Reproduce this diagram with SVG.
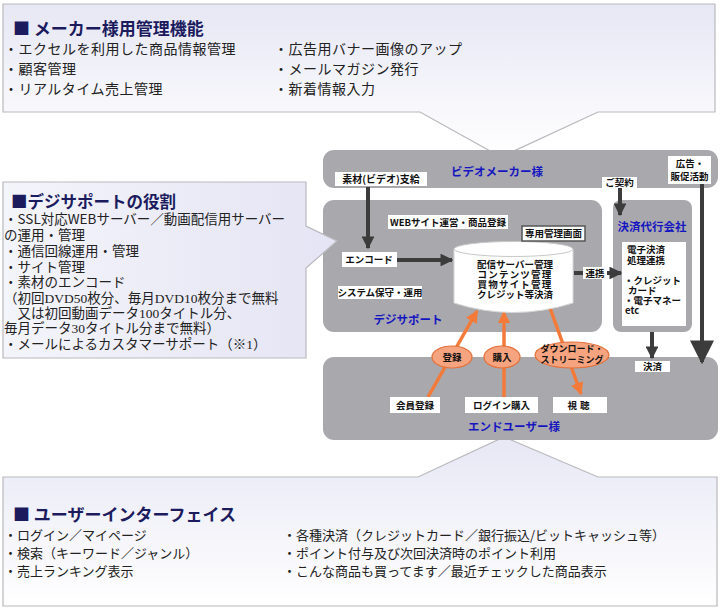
<svg xmlns="http://www.w3.org/2000/svg" width="720" height="609" viewBox="0 0 720 609">
<defs>
<linearGradient id="cg" x1="0" y1="0" x2="0" y2="1">
<stop offset="0" stop-color="#e7e7f5"/>
<stop offset="1" stop-color="#ffffff"/>
</linearGradient>
<linearGradient id="cgl" x1="0" y1="0" x2="1" y2="0">
<stop offset="0" stop-color="#f4f4fb"/>
<stop offset="1" stop-color="#e4e4f4"/>
</linearGradient>
<marker id="ad" viewBox="0 0 10 10" refX="9" refY="5" markerWidth="3.2" markerHeight="3.2" orient="auto" markerUnits="strokeWidth">
<path d="M0,0 L10,5 L0,10 Z" fill="#3c3c3c"/>
</marker>
<marker id="adl" viewBox="0 0 10 10" refX="9" refY="5" markerWidth="6" markerHeight="6" orient="auto" markerUnits="strokeWidth">
<path d="M0,0 L10,5 L0,10 Z" fill="#3c3c3c"/>
</marker>
<marker id="ao" viewBox="0 0 10 10" refX="9" refY="5" markerWidth="3.6" markerHeight="3.6" orient="auto" markerUnits="strokeWidth">
<path d="M0,0 L10,5 L0,10 Z" fill="#f47a3a"/>
</marker>
<style>
.co{stroke:#b9b9bd;stroke-width:1.2}
.ct{font-family:"Noto Sans CJK JP","Noto Sans",sans-serif;font-weight:bold;font-size:17px;fill:#1b1b5e}
.ci{font-family:"Noto Sans CJK JP","Noto Sans",sans-serif;font-size:13px;fill:#222}
.panel{fill:#a9a9ad}
.wb{fill:#ffffff}
.lb{font-family:"Noto Sans CJK JP","Noto Sans",sans-serif;font-weight:bold;font-size:9.5px;fill:#111;text-anchor:middle}
.bt{font-family:"Noto Sans CJK JP","Noto Sans",sans-serif;font-weight:bold;font-size:11.5px;fill:#1616c0;text-anchor:middle}
.da{stroke:#3c3c3c;stroke-width:4;fill:none}
.oa{stroke:#f47a3a;stroke-width:3.5;fill:none}
.ov{fill:#f6a47f;stroke:#e2703a;stroke-width:1.2}
.sf{font-family:"Liberation Serif",serif}
</style>
</defs>

<g id="callout-maker">
<path class="co" fill="url(#cg)" d="M3,4 H715 V112 H598 L501,157 L420,112 H3 Z"/>
<text class="ct" x="13" y="35">■ メーカー様用管理機能</text>
<g class="ci" style="font-size:14px;letter-spacing:0.5px">
<text x="4" y="54">・エクセルを利用した商品情報管理</text>
<text x="4" y="74">・顧客管理</text>
<text x="4" y="94">・リアルタイム売上管理</text>
<text x="274" y="54">・広告用バナー画像のアップ</text>
<text x="274" y="74">・メールマガジン発行</text>
<text x="274" y="94">・新着情報入力</text>
</g>
</g>

<g id="callout-ui">
<path class="co" fill="url(#cg)" d="M3,477 H418 L504,437 L598,477 H717 V606 H3 Z"/>
<text class="ct" x="13" y="521">■ ユーザーインターフェイス</text>
<g class="ci">
<text x="4" y="540">・ログイン／マイページ</text>
<text x="4" y="558">・検索（キーワード／ジャンル）</text>
<text x="4" y="576">・売上ランキング表示</text>
<text x="283" y="540">・各種決済（クレジットカード／銀行振込/ビットキャッシュ等）</text>
<text x="283" y="558">・ポイント付与及び次回決済時のポイント利用</text>
<text x="283" y="576">・こんな商品も買ってます／最近チェックした商品表示</text>
</g>
</g>

<g id="video-maker">
<rect class="panel" x="323" y="150" width="395" height="38" rx="11"/>
<text class="bt" x="497" y="176">ビデオメーカー様</text>
</g>

<g id="digisupport">
<rect class="panel" x="323" y="200" width="279" height="132" rx="11"/>
<text class="bt" x="408" y="324">デジサポート</text>
</g>

<g id="settlement-agent">
<rect class="panel" x="613" y="200" width="79" height="132" rx="8"/>
<text class="bt" x="652" y="231">決済代行会社</text>
<rect class="wb" x="622" y="242" width="64" height="84"/>
<g class="lb" style="text-anchor:start">
<text x="627" y="253">電子決済</text>
<text x="627" y="264">処理連携</text>
<text x="624" y="284">・クレジット</text>
<text x="628" y="294">カード</text>
<text x="624" y="304">・電子マネー</text>
<text x="625" y="314">etc</text>
</g>
</g>

<g id="end-user">
<rect class="panel" x="323" y="357" width="395" height="83" rx="11"/>
<text class="bt" x="514" y="431">エンドユーザー様</text>
</g>

<g id="callout-digisupport">
<path class="co" fill="url(#cgl)" d="M3,182 H306 V226 L337,241 L306,268 V358 H3 Z"/>
<text class="ct" x="11" y="208" style="font-size:16.5px">■デジサポートの役割</text>
<g class="ci" style="font-size:13.5px">
<text x="4" y="224">・SSL対応WEBサーバー／動画配信用サーバー</text>
<text x="4" y="240">の運用・管理</text>
<text x="4" y="256">・通信回線運用・管理</text>
<text x="4" y="272">・サイト管理</text>
<text x="4" y="287">・素材のエンコード</text>
<text x="4" y="303">（初回<tspan class="sf">DVD50</tspan>枚分、毎月<tspan class="sf">DVD10</tspan>枚分まで無料</text>
<text x="4" y="318">　又は初回動画データ<tspan class="sf">100</tspan>タイトル分、</text>
<text x="4" y="333">毎月データ<tspan class="sf">30</tspan>タイトル分まで無料）</text>
<text x="4" y="349">・メールによるカスタマーサポート（※<tspan class="sf">1</tspan>）</text>
</g>
</g>

<g id="connectors">
<line class="da" x1="368" y1="187" x2="368" y2="248" marker-end="url(#ad)"/>
<line class="da" x1="397" y1="260" x2="452" y2="260" marker-end="url(#ad)"/>
<line class="da" x1="574" y1="273" x2="583" y2="273"/>
<line class="da" x1="607" y1="273" x2="621" y2="273" marker-end="url(#ad)"/>
<line class="da" x1="620" y1="187" x2="620" y2="215" marker-end="url(#ad)"/>
<line class="da" x1="652" y1="332" x2="652" y2="358" marker-end="url(#ad)"/>
<line class="da" x1="702" y1="184" x2="702" y2="362" stroke-width="2.6" marker-end="url(#adl)"/>
<line class="oa" x1="428" y1="397" x2="477" y2="311" marker-end="url(#ao)"/>
<line class="oa" x1="504" y1="397" x2="504" y2="312" marker-end="url(#ao)"/>
<line class="oa" x1="550" y1="308" x2="581" y2="394" marker-end="url(#ao)"/>
</g>

<g id="db">
<path d="M454,249 V303 Q513,322 573,303 V249 Z" fill="#ffffff" stroke="#d6d6d6" stroke-width="1"/>
<ellipse cx="513.5" cy="249" rx="59.5" ry="7.5" fill="#ffffff" stroke="#c8c8c8" stroke-width="1"/>
<text class="lb" x="515" y="268">配信サーバー管理</text>
<text class="lb" x="515" y="278" style="letter-spacing:1.2px">コンテンツ管理</text>
<text class="lb" x="515" y="288" style="letter-spacing:1.2px">買物サイト管理</text>
<text class="lb" x="515" y="298">クレジット等決済</text>
</g>

<g id="n-source">
<rect class="wb" x="335" y="172" width="92" height="14"/>
<text class="lb" x="381" y="183" style="font-size:10px">素材(ビデオ)支給</text>
</g>
<g id="n-ad">
<rect class="wb" x="668" y="156" width="43" height="28"/>
<text class="lb" x="690" y="167">広告・</text>
<text class="lb" x="689.5" y="180">販促活動</text>
</g>
<g id="n-contract">
<rect class="wb" x="602" y="177" width="35" height="11"/>
<text class="lb" x="619.5" y="186">ご契約</text>
</g>
<g id="n-web">
<rect class="wb" x="388" y="215" width="120" height="14"/>
<text class="lb" x="448" y="226">WEBサイト運営・商品登録</text>
</g>
<g id="n-admin">
<rect x="522" y="226" width="63" height="15" fill="#ffffff" stroke="#555" stroke-width="1.5"/>
<text class="lb" x="553.5" y="237">専用管理画面</text>
</g>
<g id="n-encode">
<rect class="wb" x="342" y="252" width="55" height="15"/>
<text class="lb" x="369" y="263">エンコード</text>
</g>
<g id="n-system">
<rect class="wb" x="338" y="286" width="84" height="13"/>
<text class="lb" x="380" y="296">システム保守・運用</text>
</g>
<g id="n-link">
<rect class="wb" x="583" y="267" width="24" height="12"/>
<text class="lb" x="595" y="277">連携</text>
</g>
<g id="n-settle">
<rect class="wb" x="635" y="361" width="35" height="11"/>
<text class="lb" x="652.5" y="370">決済</text>
</g>
<g id="n-member">
<rect class="wb" x="390" y="397" width="50" height="16"/>
<text class="lb" x="415" y="409">会員登録</text>
</g>
<g id="n-login">
<rect class="wb" x="465" y="397" width="73" height="16"/>
<text class="lb" x="501.5" y="409">ログイン購入</text>
</g>
<g id="n-view">
<rect class="wb" x="553" y="397" width="54" height="16"/>
<text class="lb" x="580" y="409" style="letter-spacing:3px">視聴</text>
</g>
<g id="o-register">
<ellipse class="ov" cx="452" cy="357" rx="20" ry="11"/>
<text class="lb" x="452" y="361">登録</text>
</g>
<g id="o-purchase">
<ellipse class="ov" cx="502" cy="357" rx="18" ry="11"/>
<text class="lb" x="502" y="361">購入</text>
</g>
<g id="o-download">
<ellipse class="ov" cx="572" cy="355" rx="37" ry="13"/>
<text class="lb" x="572" y="352" style="font-size:9px">ダウンロード・</text>
<text class="lb" x="572" y="363" style="font-size:9px">ストリーミング</text>
</g>
</svg>
